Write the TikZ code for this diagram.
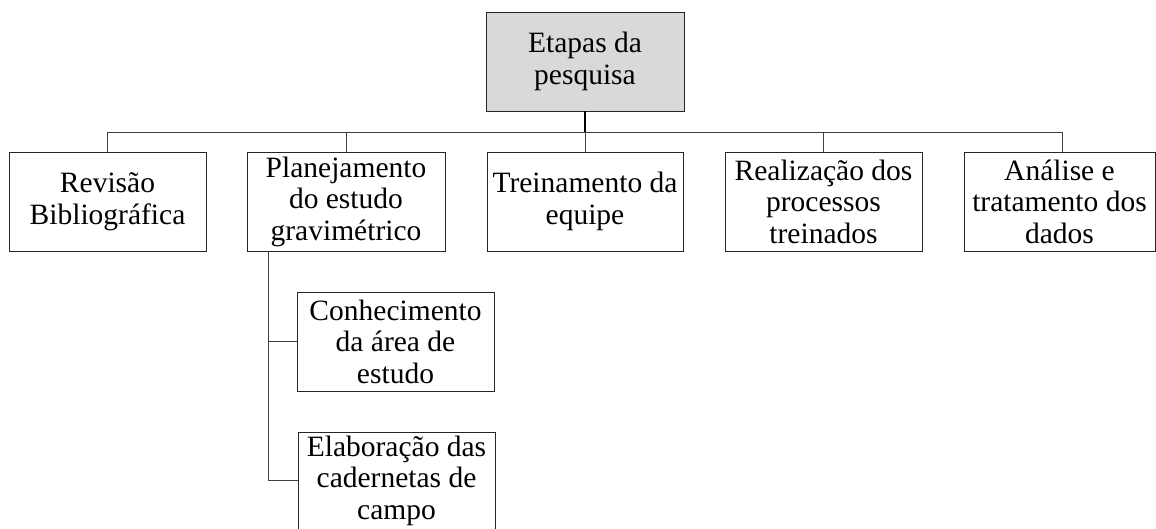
\documentclass[tikz,border=0pt]{standalone}
\usepackage{fontspec}
\setmainfont{Liberation Serif}
\begin{document}
\begin{tikzpicture}[x=1pt,y=-1pt,
  box/.style={draw=black!85, line width=0.8pt, fill=white, align=center, inner sep=0pt,
    font=\fontsize{29.5}{31.5}\selectfont},
  conn/.style={draw=black!75, line width=0.8pt}]
\useasboundingbox (0,0) rectangle (1156,529);
\node[box, fill=black!15, minimum width=198, minimum height=99] (top) at (585,61.5) {Etapas da\\pesquisa};
\node[box, minimum width=197, minimum height=99] (b1) at (107.5,201.5) {Revisão\\Bibliográfica};
\node[box, minimum width=198, minimum height=99] (b2) at (346,201.5) {Planejamento\\do estudo\\gravimétrico};
\node[box, minimum width=196, minimum height=99] (b3) at (585,201.5) {Treinamento da\\equipe};
\node[box, minimum width=197, minimum height=99] (b4) at (823.5,201.5) {Realização dos\\processos\\treinados};
\node[box, minimum width=191, minimum height=99] (b5) at (1059.5,201.5) {Análise e\\tratamento dos\\dados};
\node[box, minimum width=197, minimum height=99] (s1) at (395.5,341.5) {Conhecimento\\da área de\\estudo};
\node[box, minimum width=197, minimum height=97] (s2) at (396.5,480.5) {Elaboração das\\cadernetas de\\campo};
\coordinate (hub) at (585,132);
\coordinate (b5t) at (1062,152);
\coordinate (sv) at (268,251);
\draw[conn, draw=black, line width=1.2pt] (top.south) -- (hub);
\draw[conn] (b1.north) |- (hub);
\draw[conn] (b2.north) |- (hub);
\draw[conn] (b3.north) -- (hub);
\draw[conn] (b4.north) |- (hub);
\draw[conn] (b5t) |- (hub);
\draw[conn] (sv) |- (s2.west);
\draw[conn] (sv) |- (s1.west);
\end{tikzpicture}
\end{document}
